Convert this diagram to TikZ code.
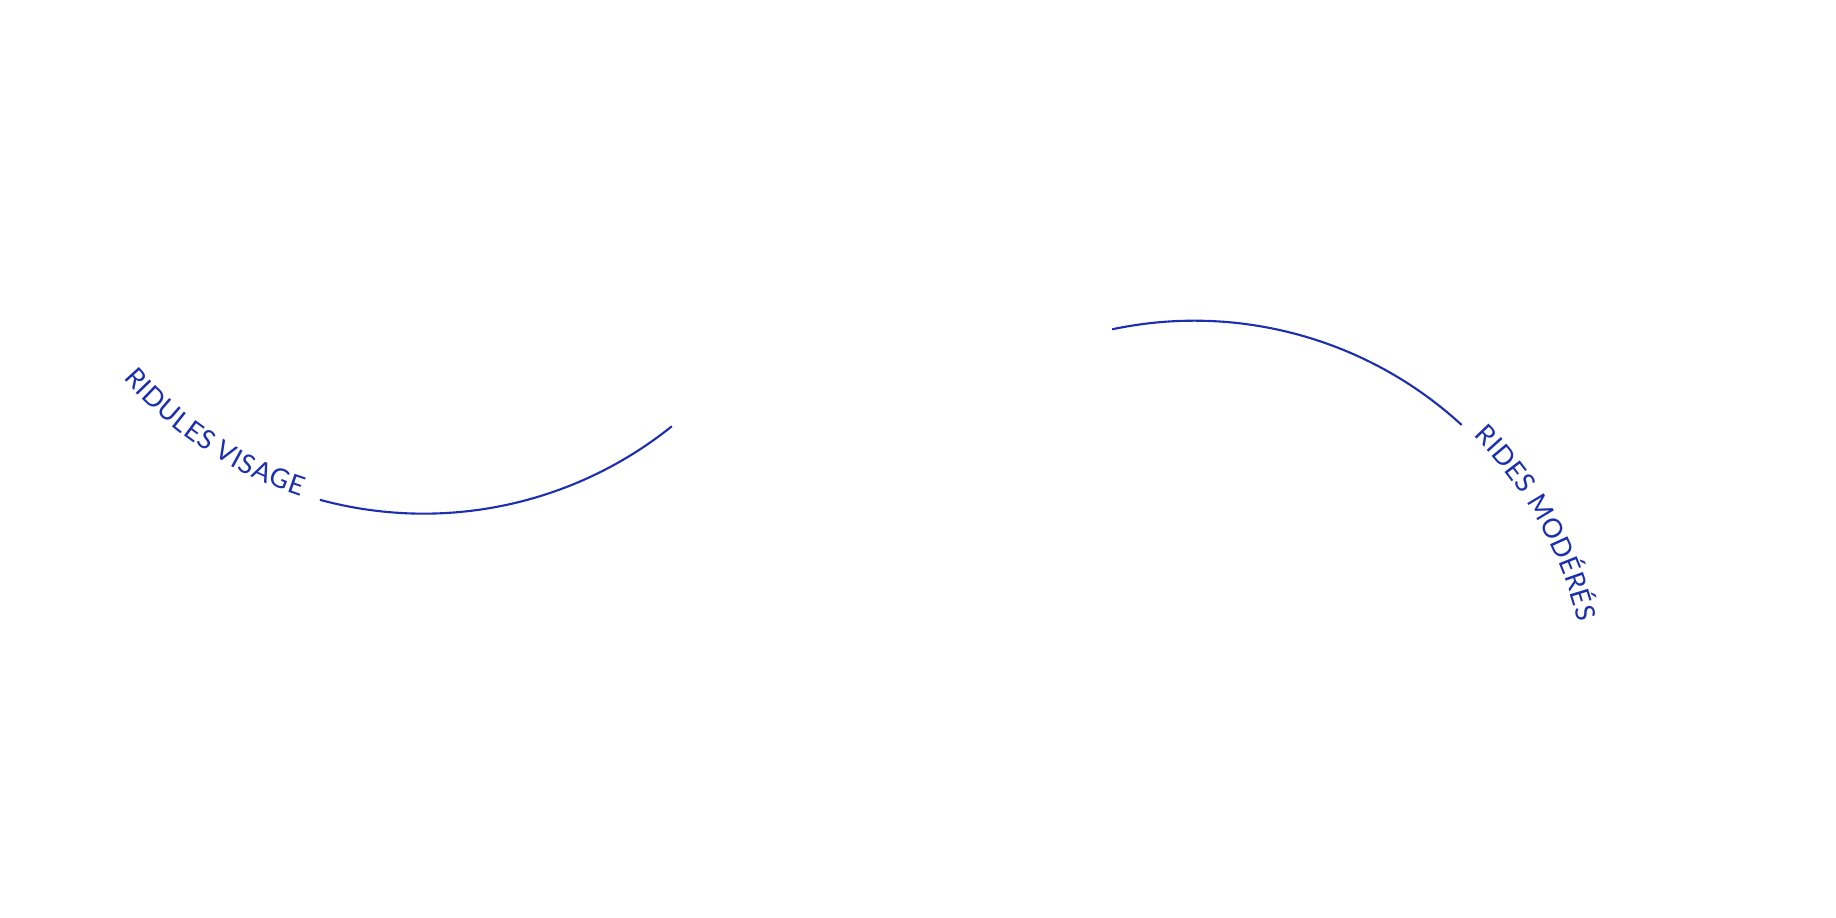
\documentclass[tikz,border=0pt]{standalone}
\usepackage{fontspec}
\setmainfont{Lato}
\usetikzlibrary{decorations.text}
\definecolor{WrinkleBlue}{HTML}{1B2FB0}

\begin{document}
\begin{tikzpicture}[
  x=0.1mm,y=0.1mm,
  wrinkle/.style={draw=WrinkleBlue,line width=0.6pt},
  curvedlabel/.style={decorate,decoration={text along path,
    text align={fit to path},text color=WrinkleBlue,
    text={|\fontsize{7.6}{9}\selectfont|#1}}},
]
\useasboundingbox[fill=white] (0,0) rectangle (1836,918);

% left: fine lines
\coordinate (visagectr) at (423.7,800.3);
\draw[wrinkle] (visagectr) ++(254.8:39.6mm)
  arc[start angle=254.8,end angle=308.8,radius=39.6mm];
\path[curvedlabel={RIDULES VISAGE}] (visagectr) ++(221.0:39.8mm)
  arc[start angle=221.0,end angle=252.0,radius=39.8mm];

% right: moderate wrinkles
\coordinate (modctr) at (1194.3,202.3);
\draw[wrinkle] (modctr) ++(102.0:39.5mm)
  arc[start angle=102.0,end angle=47.4,radius=39.5mm];
\path[curvedlabel={RIDES MODÉRÉS}] (modctr) ++(45.1:39.5mm)
  arc[start angle=45.1,end angle=13.7,radius=39.5mm];
\end{tikzpicture}
\end{document}
